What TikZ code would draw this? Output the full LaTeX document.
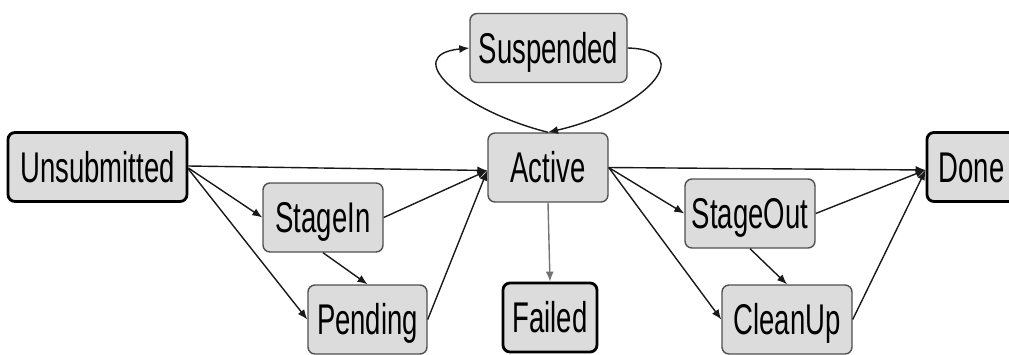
\documentclass[tikz,border=0pt]{standalone}
\usepackage{fontspec}
\setmainfont{Liberation Sans}[FakeStretch=0.64]
\usetikzlibrary{arrows.meta}
\definecolor{boxfill}{RGB}{220,220,220}
\definecolor{boxline}{RGB}{80,80,80}
\definecolor{edgecol}{RGB}{25,25,25}
\begin{document}
\begin{tikzpicture}[x=1pt,y=-1pt,
  state/.style={draw=boxline, line width=1.4pt, fill=boxfill, rounded corners=7pt,
    inner sep=0pt, text height=30pt, text depth=0pt,
    font=\fontsize{43}{43}\selectfont, minimum height=69pt},
  final/.style={state, draw=black, line width=2.8pt},
  tr/.style={-{Latex[length=10pt,width=8pt]}, draw=edgecol, line width=1.4pt},
]
\useasboundingbox (0,0) rectangle (1009,354);
\clip (0,0) rectangle (1009,354);

% states
\node[final, minimum width=179pt] (unsub) at (97.5,167)  {Unsubmitted};
\node[state, minimum width=157pt] (susp)  at (548.5,48)  {Suspended};
\node[state, minimum width=120pt] (act)   at (548,167.5) {Active};
\node[final, minimum width=89pt]  (done)  at (971.5,167) {Done};
\node[state, minimum width=120pt] (stin)  at (323,217.5) {StageIn};
\node[state, minimum width=119pt] (pend)  at (367.5,319.5) {Pending};
\node[final, minimum width=94pt]  (fail)  at (550,317.5) {Failed};
\node[state, minimum width=130pt] (stout) at (750,213.5) {StageOut};
\node[state, minimum width=130pt] (clean) at (787,319.5) {CleanUp};

% transitions into Active
\draw[tr] ([yshift=1pt]unsub.east)  -- ([yshift=-3pt]act.west);
\draw[tr] ([yshift=-1pt]unsub.east) -- (stin.west);
\draw[tr] ([yshift=-2pt]unsub.east) -- (pend.west);
\draw[tr] (stin.east) -- ([yshift=-3pt]act.west);
\draw[tr] (stin.south) -- (pend.north);
\draw[tr] (pend.east) -- ([yshift=-3pt]act.west);

% suspension loop
\draw[tr] (act.north) .. controls (460,110) and (400,55) .. (susp.west);
\draw[tr] (susp.east) .. controls (700,50) and (645,110) .. (act.north);

% failure
\draw[tr, draw=black!55] (act.south) -- (fail.north);

% transitions out of Active
\draw[tr] (act.east) -- ([yshift=-3pt]done.west);
\draw[tr] (act.east) -- (stout.west);
\draw[tr] (act.east) -- (clean.west);
\draw[tr] (stout.east) -- ([yshift=-3pt]done.west);
\draw[tr] (stout.south) -- (clean.north);
\draw[tr] (clean.east) -- ([yshift=-3pt]done.west);
\end{tikzpicture}
\end{document}
